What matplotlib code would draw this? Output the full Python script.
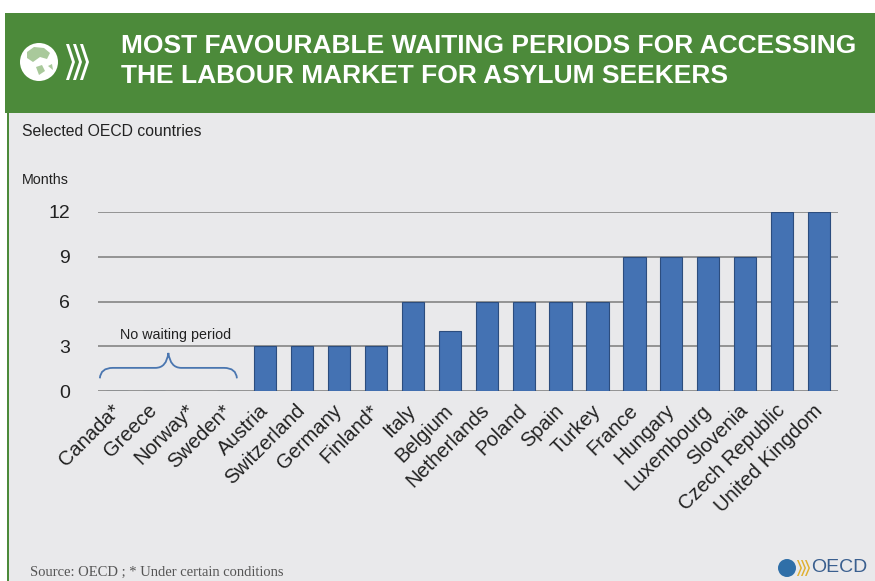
import matplotlib
matplotlib.use("Agg")
import matplotlib.pyplot as plt
from matplotlib.patches import Rectangle, Ellipse, PathPatch, Polygon
from matplotlib.path import Path
import numpy as np

countries = ["Canada*", "Greece", "Norway*", "Sweden*", "Austria", "Switzerland",
             "Germany", "Finland*", "Italy", "Belgium", "Netherlands", "Poland",
             "Spain", "Turkey", "France", "Hungary", "Luxembourg", "Slovenia",
             "Czech Republic", "United Kingdom"]
months = [0, 0, 0, 0, 3, 3, 3, 3, 6, 4, 6, 6, 6, 6, 9, 9, 9, 9, 12, 12]
yticks = [0, 3, 6, 9, 12]

title = "MOST FAVOURABLE WAITING PERIODS FOR ACCESSING\nTHE LABOUR MARKET FOR ASYLUM SEEKERS"
subtitle = "Selected OECD countries"
unit = "Months"
note = "No waiting period"
source = "Source: OECD ; * Under certain conditions"

W, H = 875, 581
fig = plt.figure(figsize=(W / 100, H / 100), dpi=100)
fig.patch.set_facecolor("white")

def fx(px):
    return px / W

def fy(py):
    return 1 - py / H

green = "#4c8a3a"
panel = "#e9e9eb"

# background panel
fig.patches.append(Rectangle((fx(8), 0), 1 - fx(8), fy(113), transform=fig.transFigure,
                             facecolor=panel, edgecolor="none", zorder=0))
fig.patches.append(Rectangle((fx(7), 0), fx(2), fy(113), transform=fig.transFigure,
                             facecolor=green, edgecolor="none", zorder=1))
# header
fig.patches.append(Rectangle((fx(5), fy(113)), 1 - fx(5), (113 - 13) / H, transform=fig.transFigure,
                             facecolor=green, edgecolor="none", zorder=1))

# logo globe
fig.patches.append(Ellipse((fx(39), fy(62)), 38 / W, 38 / H, transform=fig.transFigure,
                           facecolor="white", edgecolor="none", zorder=2))
cont = [[(27, 52), (34, 47), (44, 48), (50, 53), (47, 59), (40, 57), (33, 62), (27, 58)],
        [(36, 67), (42, 65), (45, 71), (39, 75)],
        [(48, 66), (52, 64), (53, 70)]]
for c in cont:
    fig.patches.append(Polygon([(fx(a), fy(b)) for a, b in c], closed=True, transform=fig.transFigure,
                               facecolor="#a9c99b", edgecolor="none", zorder=3))
# chevrons
for i in range(3):
    x0 = 66 + i * 7
    pts = [(x0, 44), (x0 + 3, 44), (x0 + 9, 62), (x0 + 3, 80), (x0, 80), (x0 + 6, 62)]
    fig.patches.append(Polygon([(fx(a), fy(b)) for a, b in pts], closed=True, transform=fig.transFigure,
                               facecolor="white", edgecolor="none", zorder=3))

fig.text(fx(121), fy(61), title, color="white", fontsize=19, fontweight="bold",
         family="Liberation Sans", va="center", ha="left",
         linespacing=1.28, zorder=5)

fig.text(fx(22), fy(131), subtitle, fontsize=11.3, color="#222222", va="center", ha="left",
         family="Liberation Sans")
fig.text(fx(22), fy(180), unit, fontsize=10.3, color="#222222", va="center", ha="left",
         family="Liberation Sans")

# axes
ax = fig.add_axes([fx(98), fy(391), fx(838) - fx(98), (391 - 212) / H])
ax.set_zorder(10)
ax.set_facecolor("none")
x = np.arange(len(countries))
ax.bar(x, months, width=0.6, color="#4472b3", edgecolor="#2c4d7e", linewidth=0.8, zorder=3)
ax.set_xlim(-0.52, len(countries) - 0.49)
ax.set_ylim(0, 12)
ax.set_yticks(yticks)
ax.set_yticklabels([str(t) for t in yticks], fontsize=14, family="Liberation Sans", color="#222222")
for t in yticks:
    ax.axhline(t, color="#8c8c8c", linewidth=1.3, zorder=1)
for s in ax.spines.values():
    s.set_visible(False)
ax.tick_params(axis="y", length=0, pad=20)
ax.tick_params(axis="x", length=0, pad=12)
ax.set_xticks(x)
ax.set_xticklabels(countries, rotation=45, ha="right", va="center", rotation_mode="anchor",
                   fontsize=14.5, family="Liberation Sans", color="#222222")

# brace over zero-waiting countries
zero_idx = [i for i, m in enumerate(months) if m == 0]
x0, x1 = zero_idx[0] - 0.47, zero_idx[-1] + 0.24
xm = (x0 + x1) / 2
yb, yh, yt = 0.85, 1.55, 2.55
verts = [(x0, yb),
         (x0 + 0.02, yh), (x0 + 0.35, yh),
         (xm - 0.35, yh),
         (xm - 0.05, yh), (xm, yt),
         (xm + 0.05, yh), (xm + 0.35, yh),
         (x1 - 0.35, yh),
         (x1 - 0.02, yh), (x1, yb)]
codes = [Path.MOVETO,
         Path.CURVE3, Path.CURVE3,
         Path.LINETO,
         Path.CURVE3, Path.CURVE3,
         Path.CURVE3, Path.CURVE3,
         Path.LINETO,
         Path.CURVE3, Path.CURVE3]
ax.add_patch(PathPatch(Path(verts, codes), facecolor="none", edgecolor="#4a76b0",
                       linewidth=1.3, zorder=4, clip_on=False))
ax.text(xm + 0.2, 3.3, note, ha="center", va="bottom", fontsize=10.3, color="#222222",
        family="Liberation Sans")

fig.text(fx(30), fy(572), source, fontsize=10.5, color="#555555", va="center", ha="left",
         family="Liberation Serif")

# OECD logo bottom right
fig.patches.append(Ellipse((fx(787), fy(568)), 18 / W, 18 / H, transform=fig.transFigure,
                           facecolor="#2f6fa8", edgecolor="none", zorder=2))
for i in range(3):
    x0p = 797 + i * 4
    pts = [(x0p, 560), (x0p + 1.6, 560), (x0p + 5, 568), (x0p + 1.6, 576), (x0p, 576), (x0p + 3.4, 568)]
    fig.patches.append(Polygon([(fx(a), fy(b)) for a, b in pts], closed=True, transform=fig.transFigure,
                               facecolor="#e0b030", edgecolor="none", zorder=3))
fig.text(fx(811), fy(568), "OECD", fontsize=14, color="#3a5f8f", va="center", ha="left",
         family="Liberation Sans")

fig.savefig("out.png", dpi=100, facecolor=fig.get_facecolor())
